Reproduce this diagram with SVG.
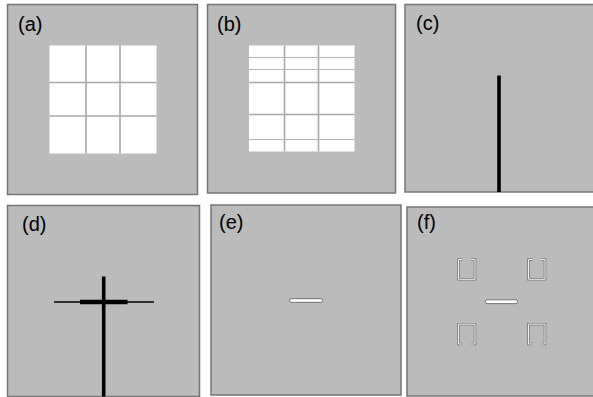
<svg xmlns="http://www.w3.org/2000/svg" width="593" height="397" viewBox="0 0 593 397">
<style>
.panel{fill:#bbbbbb;stroke:#757575;stroke-width:1.5}
.lbl{font-family:"Liberation Sans",Arial,sans-serif;font-size:20px;fill:#000}
.grid{fill:#ffffff}
.gl{stroke:#a8a8a8;stroke-width:1.6}
.tl{stroke:#b4b4b4;stroke-width:1}
.blk{stroke:#000;fill:none}
.bar{fill:#ffffff;stroke:#6a6a6a;stroke-width:0.9}
.brO{fill:none;stroke:#7a7a7a;stroke-width:2.6}
.brI{fill:none;stroke:#f2f2f2;stroke-width:1}
</style>
<rect width="593" height="397" fill="#ffffff"/>
<g id="panel-a">
<rect class="panel" x="7.5" y="4.5" width="190" height="190"/>
<text class="lbl" x="18" y="31">(a)</text>
<rect class="grid" x="49.5" y="45.5" width="107" height="108"/>
<line class="gl" x1="86" y1="45.5" x2="86" y2="153.5"/>
<line class="gl" x1="120" y1="45.5" x2="120" y2="153.5"/>
<line class="gl" x1="49.5" y1="82.5" x2="156.5" y2="82.5"/>
<line class="gl" x1="49.5" y1="116" x2="156.5" y2="116"/>
</g>
<g id="panel-b">
<rect class="panel" x="207.5" y="4.5" width="188" height="188.5"/>
<text class="lbl" x="217" y="31">(b)</text>
<rect class="grid" x="249" y="45.5" width="105.5" height="106"/>
<line class="gl" x1="284.5" y1="45.5" x2="284.5" y2="151.5"/>
<line class="gl" x1="318.5" y1="45.5" x2="318.5" y2="151.5"/>
<line class="tl" x1="249" y1="57.5" x2="354.5" y2="57.5"/>
<line class="tl" x1="249" y1="69.5" x2="354.5" y2="69.5"/>
<line class="gl" x1="249" y1="82.5" x2="354.5" y2="82.5"/>
<line class="gl" x1="249" y1="114.5" x2="354.5" y2="114.5"/>
<line class="tl" x1="249" y1="139.5" x2="354.5" y2="139.5"/>
</g>
<g id="panel-c">
<rect class="panel" x="405" y="4.5" width="190" height="187.5"/>
<text class="lbl" x="416" y="30">(c)</text>
<line class="blk" x1="499" y1="75.5" x2="499" y2="192" stroke-width="3.6"/>
</g>
<g id="panel-d">
<rect class="panel" x="7.5" y="205.5" width="192" height="191"/>
<text class="lbl" x="22" y="231">(d)</text>
<line class="blk" x1="54" y1="302" x2="154" y2="302" stroke-width="1.4"/>
<line class="blk" x1="80" y1="302" x2="127.5" y2="302" stroke-width="4.4"/>
<line class="blk" x1="103.7" y1="276.5" x2="103.7" y2="396.5" stroke-width="3.6"/>
</g>
<g id="panel-e">
<rect class="panel" x="211" y="205" width="190" height="190"/>
<text class="lbl" x="219" y="229">(e)</text>
<rect class="bar" x="289.5" y="298.7" width="33" height="3.6" rx="1.5"/>
</g>
<g id="panel-f">
<rect class="panel" x="407" y="207" width="190" height="189"/>
<text class="lbl" x="417" y="229">(f)</text>
<rect class="bar" x="485.5" y="299.8" width="32" height="3.8" rx="1.5"/>
<path class="brO" d="M462.5,259.5 H458.5 V279.3 H475 V259.5 H471"/>
<path class="brI" d="M462.5,259.5 H458.5 V279.3 H475 V259.5 H471"/>
<path class="brO" d="M532.5,259.5 H528.5 V279.3 H545 V259.5 H541"/>
<path class="brI" d="M532.5,259.5 H528.5 V279.3 H545 V259.5 H541"/>
<path class="brO" d="M462.5,344 H458.5 V324.2 H475 V344 H471"/>
<path class="brI" d="M462.5,344 H458.5 V324.2 H475 V344 H471"/>
<path class="brO" d="M532.5,344 H528.5 V324.2 H545 V344 H541"/>
<path class="brI" d="M532.5,344 H528.5 V324.2 H545 V344 H541"/>
</g>
</svg>
